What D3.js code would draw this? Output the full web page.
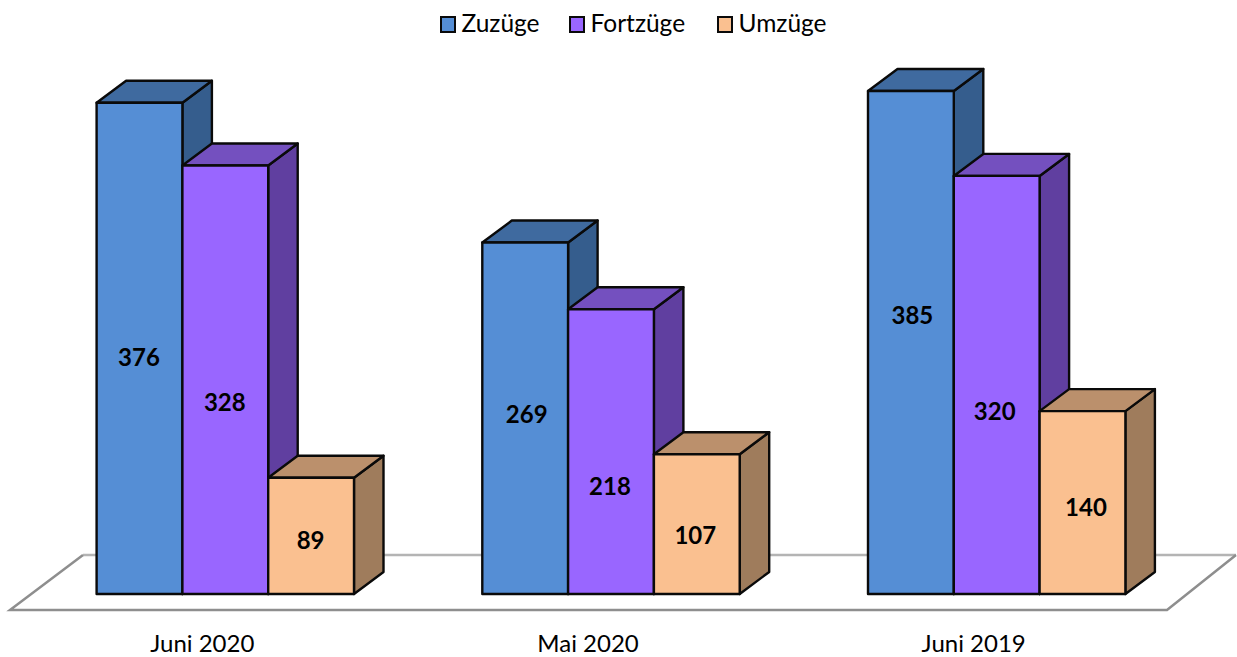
<!DOCTYPE html>
<html><head><meta charset="utf-8">
<script src="https://cdnjs.cloudflare.com/ajax/libs/d3/7.8.5/d3.min.js"></script>
<style>html,body{margin:0;padding:0;background:#fff}svg{display:block}text{font-family:Lato,"Open Sans",sans-serif;fill:#000}</style>
</head><body><svg id="c" width="1237" height="657"></svg>
<script>
const categories = ["Juni 2020", "Mai 2020", "Juni 2019"];
const seriesNames = ["Zuzüge", "Fortzüge", "Umzüge"];
const zuzuege = [376, 269, 385];
const fortzuege = [328, 218, 320];
const umzuege = [89, 107, 140];
const seriesValues = [zuzuege, fortzuege, umzuege];
const frontColors = ["#558ed5", "#9966ff", "#fac090"];
const topColors = ["#3f6a9f", "#7450bf", "#bb906c"];
const sideColors = ["#355d8d", "#603fa0", "#9f7c5c"];
// offsets (px) of each value label from the middle of its bar front
const labelOffsetsY = [[9, 22.5, 4.5], [-4, 35, 11], [-27, 27, 4.5]];
const labelOffsetsX = [[0, 0, 0], [2, -0.5, -1], [2, -1.5, 4]];

const svg = d3.select("#c");
const baseY = 594, dx = 29.5, dy = -22;
const y = d3.scaleLinear().domain([0, 385]).range([baseY, 91]);
const xCat = d3.scalePoint().domain(categories).range([225.3, 996.7]);
const xSer = d3.scaleBand().domain(seriesNames).range([-128.7, 128.7]);

// floor
const floor = svg.append("g").attr("fill", "none").attr("stroke-width", 2.5);
floor.append("path").attr("stroke", "#b4b4b4")
  .attr("d", d3.line()([[83, 555], [1236, 555]]));
floor.append("path").attr("stroke", "#8e8e8e")
  .attr("d", d3.line()([[83, 555], [10, 610], [1167, 610], [1236, 555]]));

// bars
const poly = pts => d3.line()(pts) + "Z";
const bars = svg.append("g").attr("stroke", "#0a0a0a").attr("stroke-width", 2.4).attr("stroke-linejoin", "round");
categories.forEach((cat, ci) => {
  seriesNames.forEach((s, si) => {
    const v = seriesValues[si][ci];
    const x0 = xCat(cat) + xSer(s), x1 = x0 + xSer.bandwidth(), yt = y(v);
    bars.append("path").attr("fill", sideColors[si])
      .attr("d", poly([[x1, yt], [x1 + dx, yt + dy], [x1 + dx, baseY + dy], [x1, baseY]]));
    bars.append("path").attr("fill", topColors[si])
      .attr("d", poly([[x0, yt], [x0 + dx, yt + dy], [x1 + dx, yt + dy], [x1, yt]]));
    bars.append("rect").attr("x", x0).attr("y", yt).attr("width", x1 - x0).attr("height", baseY - yt)
      .attr("fill", frontColors[si]);
  });
});
// value labels
categories.forEach((cat, ci) => {
  seriesNames.forEach((s, si) => {
    const v = seriesValues[si][ci];
    svg.append("text").attr("x", xCat(cat) + xSer(s) + xSer.bandwidth() / 2 - 0.5 + labelOffsetsX[ci][si])
      .attr("y", (y(v) + baseY) / 2 + labelOffsetsY[ci][si] + 8.5).attr("text-anchor", "middle")
      .attr("font-size", 24).attr("font-weight", 700).text(v);
  });
});
// category labels
svg.append("g").selectAll("text").data(categories).join("text")
  .attr("x", d => xCat(d) - 23).attr("y", 652).attr("text-anchor", "middle")
  .attr("font-size", 24).text(d => d);
// legend
const legendSwatchX = [440, 569, 717];
seriesNames.forEach((s, i) => {
  svg.append("rect").attr("x", legendSwatchX[i] + 1).attr("y", 17).attr("width", 14).attr("height", 15)
    .attr("fill", frontColors[i]).attr("stroke", "#0a0a0a").attr("stroke-width", 2);
  svg.append("text").attr("x", legendSwatchX[i] + 21.5).attr("y", 32).attr("font-size", 24.5).text(s);
});
</script></body></html>
